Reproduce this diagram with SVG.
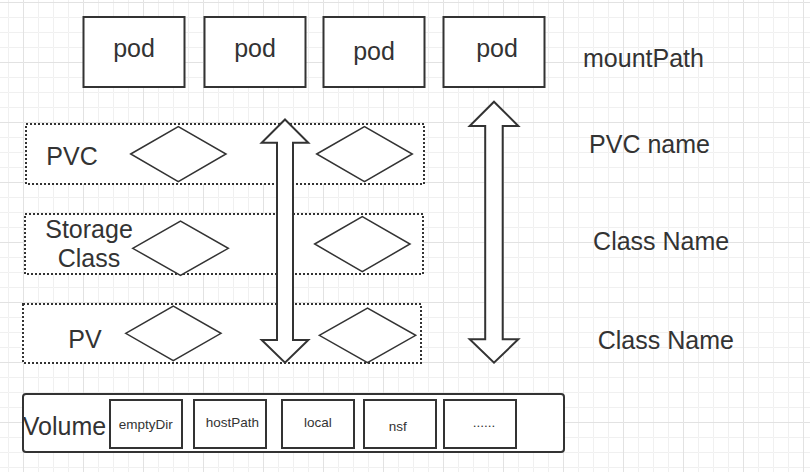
<svg xmlns="http://www.w3.org/2000/svg" width="810" height="472" viewBox="0 0 810 472">
  <defs>
    <pattern id="minor" patternUnits="userSpaceOnUse" x="8" y="2" width="15" height="15">
      <path d="M 15 0.5 L 0.5 0.5 L 0.5 15" fill="none" stroke="#f0f0f0" stroke-width="1"/>
    </pattern>
    <pattern id="major" patternUnits="userSpaceOnUse" x="23" y="2" width="60" height="60">
      <path d="M 60 0.5 L 0.5 0.5 L 0.5 60" fill="none" stroke="#e2e2e2" stroke-width="1"/>
    </pattern>
  </defs>
  <style>
    text { font-family: "Liberation Sans", Arial, Helvetica, sans-serif; fill: #333333; }
    .big { font-size: 25px; }
    .small { font-size: 13.5px; }
    .mid { text-anchor: middle; }
    .box { fill: #ffffff; stroke: #333333; stroke-width: 2; }
    .layer { fill: #ffffff; stroke: #333333; stroke-width: 2; stroke-dasharray: 2 2; }
    .diamond { fill: #ffffff; stroke: #333333; stroke-width: 1.5; }
    .arrow { fill: #ffffff; stroke: #333333; stroke-width: 2; stroke-linejoin: miter; }
  </style>

  <rect x="0" y="0" width="810" height="472" fill="#ffffff"/>
  <rect x="0" y="0" width="810" height="472" fill="url(#minor)"/>
  <rect x="0" y="0" width="810" height="472" fill="url(#major)"/>

  <g id="pvc-layer">
    <rect class="layer" x="26" y="124" width="398" height="60"/>
    <text class="big mid" x="72" y="165">PVC</text>
    <polygon class="diamond" points="130.7,154 178.3,126.7 226,154 178.3,181.7"/>
    <polygon class="diamond" points="316.7,154 364.5,126.7 412.3,154 364.5,181.7"/>
  </g>

  <g id="storageclass-layer">
    <rect class="layer" x="25" y="214" width="398" height="60"/>
    <text class="big mid" x="89" y="237.5">Storage</text>
    <text class="big mid" x="89" y="266.5">Class</text>
    <polygon class="diamond" points="132.7,248.3 180.5,221 228.3,248.3 180.5,275.3"/>
    <polygon class="diamond" points="314.7,244 362.3,216.7 410,244 362.3,271.7"/>
  </g>

  <g id="pv-layer">
    <rect class="layer" x="23" y="304" width="398" height="59"/>
    <text class="big mid" x="85" y="348.3">PV</text>
    <polygon class="diamond" points="125.7,333.3 173.3,306 221,333.3 173.3,360.7"/>
    <polygon class="diamond" points="319.3,335.3 367.5,308 415.7,335.3 367.5,362.7"/>
  </g>

  <g id="pod1">
    <rect class="box" x="83.5" y="17" width="101" height="70"/>
    <text class="big mid" x="134" y="57">pod</text>
  </g>
  <g id="pod2">
    <rect class="box" x="204.5" y="17" width="101" height="70"/>
    <text class="big mid" x="255" y="57">pod</text>
  </g>
  <g id="pod3">
    <rect class="box" x="323.5" y="17" width="101" height="70"/>
    <text class="big mid" x="374" y="60.3">pod</text>
  </g>
  <g id="pod4">
    <rect class="box" x="443.5" y="17" width="101" height="70"/>
    <text class="big mid" x="497" y="57">pod</text>
  </g>

  <g id="labels">
    <text class="big mid" x="643.5" y="66.7">mountPath</text>
    <text class="big mid" x="649.5" y="153.3">PVC name</text>
    <text class="big mid" x="661.2" y="250">Class Name</text>
    <text class="big mid" x="665.8" y="349.3">Class Name</text>
  </g>

  <g id="volume">
    <rect class="box" x="23" y="394" width="541" height="58" rx="3" ry="3"/>
    <text class="big mid" x="64.5" y="435">Volume</text>
    <g id="vol-emptydir">
      <rect class="box" x="110" y="400" width="72" height="48"/>
      <text class="small mid" x="145.8" y="429.3">emptyDir</text>
    </g>
    <g id="vol-hostpath">
      <rect class="box" x="194" y="400" width="72" height="48"/>
      <text class="small mid" x="232.5" y="426.7">hostPath</text>
    </g>
    <g id="vol-local">
      <rect class="box" x="282" y="400" width="72" height="48"/>
      <text class="small mid" x="318" y="426.7">local</text>
    </g>
    <g id="vol-nsf">
      <rect class="box" x="364" y="400" width="72" height="48"/>
      <text class="small mid" x="397.8" y="430.7">nsf</text>
    </g>
    <g id="vol-more">
      <rect class="box" x="444" y="400" width="72" height="48"/>
      <text class="small mid" x="484" y="427.3">......</text>
    </g>
  </g>

  <g id="connectors">
    <polygon class="arrow" points="285,119.5 308.3,142.7 293,142.7 293,340 308.3,340 285,362.7 261.7,340 277,340 277,142.7 261.7,142.7"/>
    <polygon class="arrow" points="494,101.7 518.3,126 502.7,126 502.7,339.3 518.3,339.3 494,362.7 469.7,339.3 485.2,339.3 485.2,126 469.7,126"/>
  </g>
</svg>
